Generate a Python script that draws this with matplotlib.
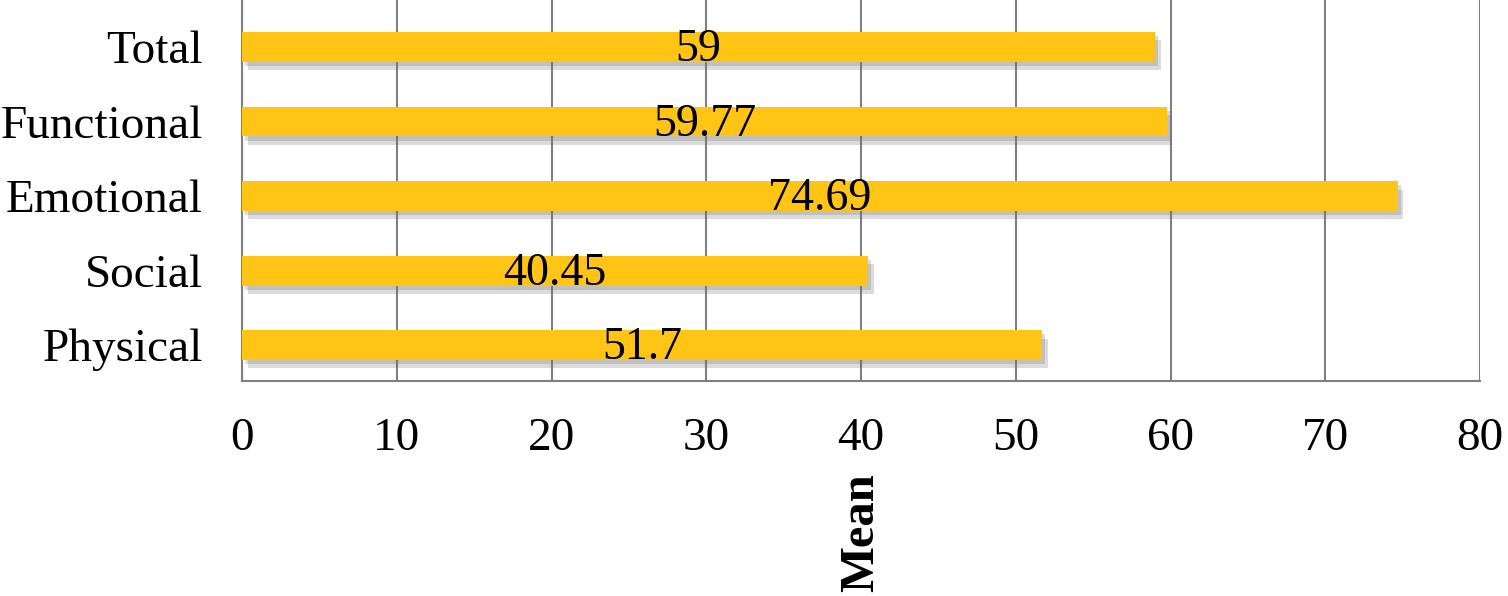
import matplotlib.pyplot as plt
import matplotlib.patheffects as pe

categories = ["Physical", "Social", "Emotional", "Functional", "Total"]
means = [51.7, 40.45, 74.69, 59.77, 59]
labels = ["51.7", "40.45", "74.69", "59.77", "59"]

plt.rcParams['font.family'] = ['Liberation Serif', 'DejaVu Serif']

fig = plt.figure(figsize=(15.08, 5.96), dpi=100)
ax = fig.add_axes([242 / 1508, 1 - 381 / 596, (1480 - 242) / 1508, 381 / 596])

shadow = [pe.SimplePatchShadow(offset=(4, -6), shadow_rgbFace='#707070', alpha=0.25),
          pe.SimplePatchShadow(offset=(2, -3), shadow_rgbFace='#707070', alpha=0.25),
          pe.Normal()]
ax.barh(range(len(categories)), means, height=0.4, color='#FFC414', zorder=3,
        path_effects=shadow)

for i, (v, lab) in enumerate(zip(means, labels)):
    ax.text(v / 2, i - 0.04, lab, ha='center', va='center', fontsize=33, zorder=4)

ax.set_xlim(0, 80)
ax.set_ylim(-0.48, 4.63)
ax.set_xticks(range(0, 81, 10))
ax.set_yticks(range(len(categories)))
ax.set_yticklabels(categories)
ax.tick_params(axis='both', labelsize=34, length=0)
ax.tick_params(axis='x', pad=26)
ax.tick_params(axis='y', pad=28)

ax.grid(axis='x', color='#808080', linewidth=1.5, zorder=0)
for s in ['top', 'right']:
    ax.spines[s].set_visible(False)
for s in ['left', 'bottom']:
    ax.spines[s].set_color('#808080')
    ax.spines[s].set_linewidth(1.5)

ax.set_xlabel("Mean", fontsize=35, fontweight='bold', rotation=90, labelpad=10)

fig.savefig("out.png", dpi=100)
